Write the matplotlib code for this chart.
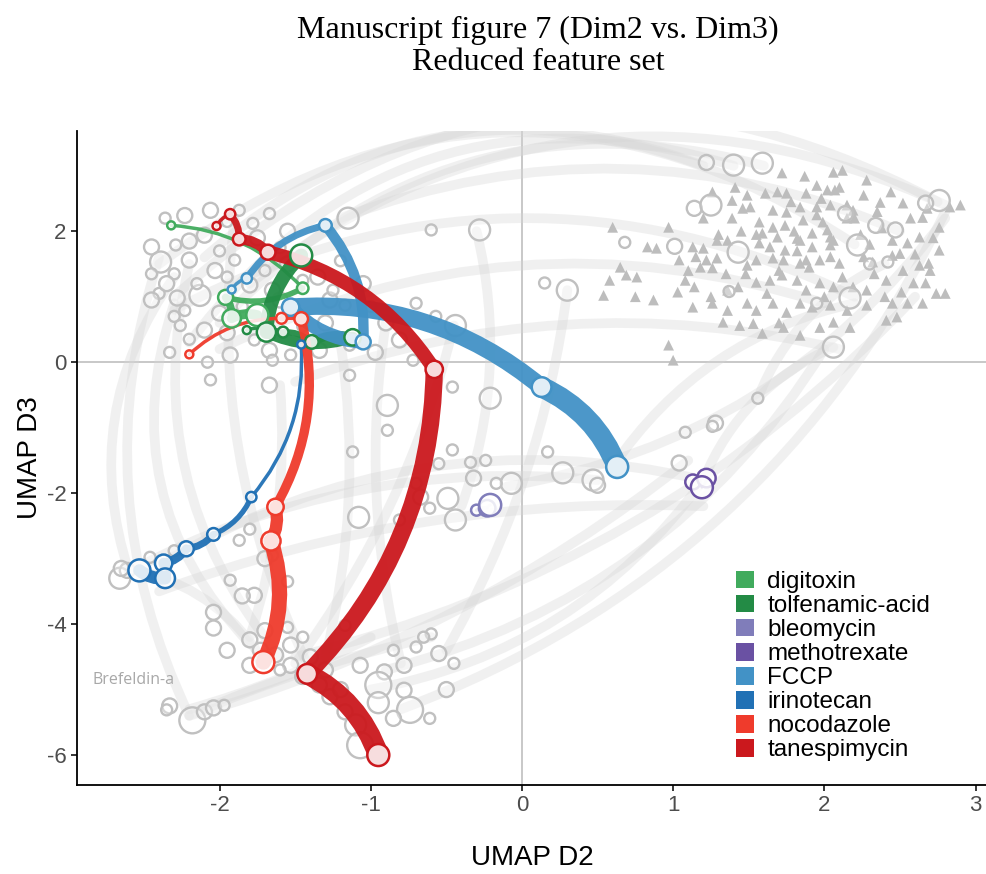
import numpy as np
import matplotlib.pyplot as plt
from matplotlib.path import Path
from matplotlib.patches import PathPatch, Patch

# ---- compound trajectories (UMAP D2, UMAP D3), ordered by dose ----
digitoxin_x = [-2.32, -1.45, -1.96, -1.92, -1.75]
digitoxin_y = [2.09, 1.13, 0.99, 0.67, 0.72]

tolfenamic_x = [-1.82, -1.58, -1.39, -1.12, -1.69, -1.46]
tolfenamic_y = [0.49, 0.46, 0.31, 0.38, 0.46, 1.63]

bleomycin_x = [-0.30, -0.23, -0.21]
bleomycin_y = [-2.26, -2.23, -2.18]

methotrexate_x = [1.13, 1.22, 1.19]
methotrexate_y = [-1.83, -1.77, -1.91]

fccp_x = [-1.92, -1.82, -1.30, -1.05, -1.53, 0.13, 0.63]
fccp_y = [1.11, 1.28, 2.09, 0.31, 0.84, -0.38, -1.60]

irinotecan_x = [-1.46, -1.79, -2.04, -2.22, -2.37, -2.36, -2.53]
irinotecan_y = [0.27, -2.06, -2.63, -2.85, -3.07, -3.30, -3.18]

nocodazole_x = [-2.20, -1.59, -1.46, -1.63, -1.66, -1.71]
nocodazole_y = [0.12, 0.67, 0.66, -2.21, -2.73, -4.58]

tanespimycin_x = [-2.02, -1.93, -1.87, -1.68, -0.58, -1.42, -0.95]
tanespimycin_y = [2.08, 2.26, 1.88, 1.68, -0.11, -4.76, -6.00]

compounds = ['digitoxin', 'tolfenamic-acid', 'bleomycin', 'methotrexate',
             'FCCP', 'irinotecan', 'nocodazole', 'tanespimycin']
traj_x = [digitoxin_x, tolfenamic_x, bleomycin_x, methotrexate_x,
          fccp_x, irinotecan_x, nocodazole_x, tanespimycin_x]
traj_y = [digitoxin_y, tolfenamic_y, bleomycin_y, methotrexate_y,
          fccp_y, irinotecan_y, nocodazole_y, tanespimycin_y]

# ---- background compounds: circles (x, y, dose level) ----
bg_x = [-2.36, -2.23, -2.06, -1.87, -1.67, -1.15, -1.95, -1.78,
        -2.45, -2.39, -2.29, -2.20, -2.10, -2.30, -2.45,
        -2.13, -2.28, -2.23, -2.03, -1.90, -1.80, -1.70,
        -2.26, -2.10, -2.33, -2.08, -1.93, -1.77, -1.67,
        -1.53, -1.34, -1.14, -1.27, -1.17, -1.35, -1.25,
        -2.00, -1.85, -1.60, -1.95, -2.15, -2.40,
        -0.60, -0.28, -0.44, -0.72, -0.81, -1.67, -1.65, -2.06,
        -0.21, -0.46, -1.14, -0.97, -0.57, -0.90, -0.70, -0.89, -0.89,
        -0.46, -0.34, -0.24, -0.32, -0.07, -0.17, -0.49, -0.61, -0.44,
        -0.67, -0.81, -1.08, -1.12, 0.27, 0.47, 0.50, 0.17,
        1.04, 1.08, 1.28, 1.26, 1.56, -0.55, -0.70,
        -1.80, -1.73, -1.63, -1.53, -1.53, -1.60, -1.80,
        -1.77, -1.65, -1.85, -2.04, -2.04, -1.93, -1.87,
        -1.17, -1.07, -0.78, -0.85, -0.91, -0.95, -0.78,
        -0.74, -0.61, -0.85, -1.27, -1.17, -1.10, -1.07,
        -1.34, -1.45, -1.40, -0.70, -0.60, -0.65,
        -1.80, -1.70, -1.55, -1.55,
        -2.18, -2.10, -2.04, -1.97, -2.33, -2.35,
        -2.66, -2.61, -2.46, -2.30, -2.65,
        1.22, 1.40, 1.59, 1.14, 1.25, 1.43, 1.01, 0.68, 0.30, 0.15,
        2.14, 2.22, 2.34, 2.47, 2.76, 2.67, 2.17, 2.06, 1.37, 2.42,
        2.30, 1.95,
        -2.20, -2.00, -1.75, -1.60, -1.55, -2.35, -2.20, -1.95, -1.45,
        -1.30, -1.20, -1.05, -1.00, -2.45, -2.30, -1.65, -1.45, -1.55,
        -1.95, -1.70, -1.45, -1.30, -1.20, -0.95, -0.50, -0.45, -0.55]
bg_y = [2.20, 2.24, 2.32, 2.32, 2.27, 2.20, 2.15, 2.12,
        1.76, 1.53, 1.79, 1.56, 1.94, 1.35, 1.35,
        1.02, 0.98, 0.79, 1.40, 1.56, 1.18, 1.40,
        0.56, 0.49, 0.15, 0.00, 0.11, 0.34, 0.18,
        0.11, 0.18, 0.26, 0.95, 0.87, 1.30, 1.10,
        0.75, 0.85, 0.95, 1.30, 1.20, 1.05,
        2.02, 2.02, 0.56, 0.03, 0.34, -0.35, 0.03, -0.27,
        -0.55, -0.38, -0.20, 0.15, 0.70, 0.60, 0.90, -0.66, -1.04,
        -1.34, -1.53, -1.50, -1.77, -1.85, -1.85, -2.08, -2.23, -2.41,
        -2.06, -2.41, -2.37, -1.37, -1.69, -1.80, -1.88, -1.37,
        -1.54, -1.07, -0.93, -0.98, -0.55, -1.55, -1.85,
        -4.24, -4.40, -4.47, -4.32, -4.63, -4.70, -4.63,
        -3.56, -2.95, -3.57, -4.06, -3.82, -3.33, -2.72,
        -4.02, -4.63, -4.63, -4.40, -4.73, -4.93, -5.01,
        -5.31, -5.44, -5.44, -5.11, -5.34, -5.54, -5.85,
        -4.93, -4.80, -4.50, -4.35, -4.15, -4.20,
        -2.55, -3.00, -3.35, -4.05,
        -5.47, -5.34, -5.28, -5.24, -5.25, -5.31,
        -3.30, -3.18, -2.98, -2.88, -3.15,
        3.05, 3.01, 3.04, 2.35, 2.40, 1.68, 1.77, 1.83, 1.10, 1.21,
        2.27, 1.79, 2.09, 2.02, 2.47, 2.43, 0.98, 0.23, 1.08, 1.53,
        1.50, 0.90,
        1.85, 1.70, 1.90, 1.75, 2.00, 1.20, 0.35, 0.45, 0.55,
        0.60, 1.55, 1.20, 0.85, 0.95, 0.70, 1.10, 1.25, 1.50,
        -4.40, -4.10, -4.20, -4.70, -5.00, -5.20, -5.00, -4.60, -4.45]
bg_dose = [1, 2, 2, 1, 1, 3, 1, 1,
           2, 3, 1, 2, 2, 1, 1,
           3, 2, 1, 2, 1, 2, 1,
           1, 2, 1, 1, 2, 1, 2,
           1, 2, 1, 2, 1, 2, 1,
           2, 1, 2, 1, 1, 1,
           1, 3, 3, 1, 2, 2, 1, 1,
           3, 1, 1, 2, 1, 2, 1, 3, 1,
           1, 1, 1, 2, 3, 1, 3, 1, 3,
           2, 1, 3, 1, 3, 3, 2, 1,
           2, 1, 2, 1, 1, 1, 1,
           2, 2, 2, 2, 2, 1, 2,
           2, 1, 2, 2, 2, 1, 1,
           1, 2, 2, 1, 2, 4, 2,
           4, 1, 2, 2, 2, 3, 4,
           2, 2, 2, 1, 1, 1,
           1, 2, 1, 1,
           4, 2, 2, 1, 2, 1,
           3, 2, 1, 1, 2,
           2, 3, 3, 2, 3, 3, 2, 1, 3, 1,
           2, 3, 2, 2, 3, 2, 3, 3, 1, 1,
           1, 1,
           2, 1, 2, 1, 2, 2, 1, 2, 1,
           2, 1, 2, 1, 2, 1, 2, 1, 2,
           2, 2, 1, 2, 2, 3, 2, 1, 2]

# ---- DMSO / control wells (triangles) ----
tri_x = [1.72, 1.87, 2.06, 2.12, 2.28, 2.10, 2.07, 1.26, 1.41, 1.49, 1.61, 1.69,
         1.75, 1.88, 2.02, 2.26, 2.44, 2.52, 2.83, 1.39, 1.46, 1.51, 1.66, 1.75,
         1.84, 1.95, 2.04, 2.19, 2.37, 0.60, 0.97, 1.20, 1.39, 1.57, 1.66, 1.74,
         1.86, 1.99, 2.02, 2.57, 2.65, 2.76, 1.59, 1.69, 1.82, 1.92, 2.04, 0.83,
         0.89, 1.13, 1.20, 1.29, 1.36, 1.57, 1.64, 1.74, 1.84, 1.92, 2.04, 2.06,
         2.45, 2.55, 2.63, 2.76, 1.04, 1.15, 1.22, 1.29, 1.18, 1.26, 1.49, 1.55,
         1.66, 1.73, 1.84, 1.88, 1.97, 2.04, 2.10, 2.26, 2.32, 2.45, 2.50, 2.63,
         2.69, 0.58, 0.69, 0.76, 1.03, 1.14, 1.36, 1.43, 1.55, 1.64, 1.72, 1.82,
         1.88, 1.97, 2.06, 2.19, 2.28, 2.41, 2.51, 2.59, 2.67, 2.74, 2.80, 0.87,
         1.13, 1.26, 1.36, 1.49, 1.55, 1.66, 1.75, 1.84, 1.92, 2.04, 2.15, 2.28,
         2.45, 2.55, 2.65, 1.33, 1.44, 1.53, 1.59, 1.73, 1.84, 1.97, 2.06, 2.17,
         2.41, 2.48, 0.54, 0.97, 1.00, 1.95, 2.20, 2.35, 1.55, 1.80, 2.30, 2.70,
         1.78, 1.98, 2.15, 1.45, 1.30, 1.10, 2.38, 2.60, 2.72, 1.70, 1.90, 2.24,
         2.12, 1.62, 1.48, 2.00, 2.33, 2.52, 1.82, 1.35, 1.08, 2.68, 2.90, 1.95,
         2.15, 1.70, 2.40, 1.25, 0.75, 0.65]
tri_y = [2.89, 2.84, 2.90, 2.93, 2.78, 2.67, 2.63, 2.60, 2.67, 2.55, 2.58, 2.60,
         2.58, 2.58, 2.63, 2.55, 2.60, 2.43, 2.37, 2.47, 2.35, 2.37, 2.32, 2.29,
         2.37, 2.37, 2.40, 2.32, 2.44, 2.06, 2.06, 2.20, 2.20, 2.14, 2.06, 2.09,
         2.17, 2.14, 2.02, 2.20, 2.21, 2.06, 1.97, 1.91, 1.89, 1.97, 1.91, 1.76,
         1.74, 1.76, 1.74, 1.86, 1.86, 1.82, 1.76, 1.71, 1.86, 1.76, 1.79, 1.86,
         1.86, 1.82, 1.91, 1.71, 1.56, 1.61, 1.56, 1.59, 1.45, 1.44, 1.48, 1.56,
         1.59, 1.56, 1.51, 1.56, 1.56, 1.61, 1.51, 1.61, 1.53, 1.63, 1.66, 1.48,
         1.51, 1.25, 1.33, 1.30, 1.07, 1.15, 1.10, 1.15, 1.22, 1.25, 1.33, 1.25,
         1.10, 1.21, 1.15, 1.15, 1.10, 1.25, 1.07, 1.21, 1.21, 1.05, 1.05, 0.95,
         0.84, 0.90, 0.79, 0.90, 0.79, 0.90, 0.76, 0.90, 0.84, 0.87, 0.79, 0.87,
         0.90, 0.90, 0.90, 0.61, 0.56, 0.59, 0.44, 0.53, 0.41, 0.53, 0.61, 0.53,
         0.64, 0.69, 1.02, 0.26, 0.03, 2.25, 2.20, 2.30, 1.95, 2.00, 1.80, 1.40,
         2.45, 2.50, 2.40, 2.00, 1.95, 1.40, 2.05, 1.65, 1.90, 1.40, 1.45, 1.95,
         1.30, 1.05, 1.35, 1.00, 1.35, 1.40, 1.70, 1.35, 1.25, 2.35, 2.40, 2.70,
         2.20, 0.60, 1.00, 1.00, 1.00, 1.45]

# ---- faint links between doses of the other compounds ----
link_x0 = [-2.30, -2.40, -2.00, -1.80, -2.20, -1.20, -2.10,
           -2.30, -2.00, -1.50,
           -1.60, -1.80, -2.20, -1.40, -2.60,
           -1.00, -0.90, -1.50, -2.20, -0.80, -2.60, -2.40,
           -1.20, -0.90, -0.45, -0.30, -1.60, 0.30, -2.20, -2.20,
           1.56, 0.60, -0.10, 1.20, -2.50, -2.40]
link_y0 = [1.00, 1.50, 0.60, 1.20, 0.30, 2.20, 1.60,
           0.80, 0.20, -0.30,
           -4.50, -4.30, -5.40, -4.70, -3.20,
           -5.00, -4.70, -4.50, -5.40, -5.30, -3.20, -3.10,
           0.30, 0.60, 0.56, 2.00, -0.35, 1.10, -5.40, -5.30,
           -0.55, -1.60, -1.90, -1.80, -3.20, -3.50]
link_x1 = [2.75, 2.20, 1.60, 2.80, 1.40, 2.50, 1.20,
           2.20, 2.00, 2.10,
           -2.20, -2.30, -2.40, -1.90, -2.30,
           1.20, 2.00, 2.60, 1.10, 2.80, 0.50, 1.20,
           -1.30, -0.80, -1.50, -0.40, -1.80, -0.50, -0.60, -1.00,
           2.40, 2.20, 2.80, 2.06, -1.70, 1.20]
link_y1 = [2.45, 1.80, 3.00, 2.40, 3.00, 2.00, 3.00,
           1.00, 0.90, 0.20,
           1.50, 0.90, 1.60, 2.20, 1.30,
           -1.80, 0.20, 1.00, -1.50, 2.30, -1.80, -1.80,
           -4.50, -4.60, -4.60, -2.20, -4.20, -4.40, -4.20, -4.20,
           1.50, 0.90, 2.20, 0.23, -4.60, -2.20]
link_bend = [0.35, 0.35, 0.30, 0.30, 0.35, 0.20, 0.30,
             0.25, 0.20, 0.15,
             0.25, 0.30, 0.20, 0.15, 0.25,
             -0.20, -0.20, -0.15, -0.10, -0.20, 0.15, 0.20,
             0.10, -0.10, 0.10, 0.15, 0.10, 0.10, 0.05, -0.05,
             0.20, 0.20, -0.20, 0.20, 0.20, 0.10]

colors = ['#41ab5d', '#238b45', '#807dba', '#6a51a3',
          '#4292c6', '#2171b5', '#ef3b2c', '#cb181d']
max_width = [7, 10, 2, 2, 15, 9, 11, 15]
min_diam = [8, 8, 11, 15, 8, 8, 8, 8]

plt.rcParams['font.family'] = ['Liberation Sans', 'DejaVu Sans']
plt.rcParams['axes.unicode_minus'] = False

fig = plt.figure(figsize=(9.87, 8.74), dpi=100)
ax = fig.add_axes([0.078, 0.1018, 0.922, 0.748])
ax.set_xlim(-2.943, 3.076)
ax.set_ylim(-6.458, 3.527)


def arc(p0, p1, bend):
    """Quadratic curve between two data points, bent in screen space."""
    a = ax.transData.transform(p0)
    b = ax.transData.transform(p1)
    d = b - a
    ctrl = (a + b) / 2 + bend * np.array([-d[1], d[0]])
    verts = ax.transData.inverted().transform(np.array([a, ctrl, b]))
    return Path(verts, [Path.MOVETO, Path.CURVE3, Path.CURVE3])


ax.axhline(0, color='#c4c4c4', lw=1.3, zorder=1)
ax.axvline(0, color='#c4c4c4', lw=1.3, zorder=1)

# faint background links
for x0, y0, x1, y1, b in zip(link_x0, link_y0, link_x1, link_y1, link_bend):
    ax.add_patch(PathPatch(arc((x0, y0), (x1, y1), b), fill=False,
                           ec='#d6d6d6', lw=7, alpha=0.35,
                           capstyle='round', zorder=2))

# background compounds
diam = {1: 11, 2: 15, 3: 21, 4: 26}
bg_s = [(diam[d] * 0.72) ** 2 for d in bg_dose]
ax.scatter(tri_x, tri_y, marker='^', s=60, color='#bdbdbd',
           edgecolor='none', zorder=3)
ax.scatter(bg_x, bg_y, s=bg_s, facecolor=(1, 1, 1, 0.35),
           edgecolor='#c0c0c0', linewidth=1.7, zorder=3)

ax.text(-2.84, -4.86, 'Brefeldin-a', color='#a8a8a8', fontsize=11.5,
        family='Open Sans', va='center', ha='left', zorder=4)

# highlighted compound trajectories
for xs, ys, col, wmax, dmin in zip(traj_x, traj_y, colors, max_width, min_diam):
    n = len(xs)
    for i in range(n - 1):
        w = 2.5 + (wmax - 2.5) * i / max(n - 2, 1)
        ax.add_patch(PathPatch(arc((xs[i], ys[i]), (xs[i + 1], ys[i + 1]), 0.2),
                               fill=False, ec=col, lw=w, alpha=0.95,
                               capstyle='round', zorder=5))
    sizes = [((dmin + (22 - dmin) * i / (n - 1)) * 0.72) ** 2 for i in range(n)]
    ax.scatter(xs, ys, s=sizes, facecolor=(1, 1, 1, 0.85),
               edgecolor=col, linewidth=1.8, zorder=6)

for side in ['top', 'right']:
    ax.spines[side].set_visible(False)
for side in ['left', 'bottom']:
    ax.spines[side].set_linewidth(1.3)
ax.set_xticks([-2, -1, 0, 1, 2, 3])
ax.set_yticks([-6, -4, -2, 0, 2])
ax.tick_params(labelsize=16, labelcolor='#4d4d4d', length=4, width=1.1)

handles = [Patch(facecolor=c, edgecolor='none', label=l)
           for c, l in zip(colors, compounds)]
ax.legend(handles=handles, loc='upper left', bbox_to_anchor=(0.713, 0.343),
          frameon=False, fontsize=17.5, handlelength=0.75, handleheight=0.75,
          handletextpad=0.55, labelspacing=0.07, borderaxespad=0)

fig.text(0.545, 0.947, 'Manuscript figure 7 (Dim2 vs. Dim3)\nReduced feature set',
         ha='center', va='center', family='Liberation Serif', fontsize=23,
         linespacing=1.15)
fig.text(0.539, 1 - 858 / 874, 'UMAP D2', ha='center', va='center', fontsize=20)
fig.text(0.030, 0.476, 'UMAP D3', ha='center', va='center', fontsize=20,
         rotation=90)

fig.savefig('out.png', dpi=100)
